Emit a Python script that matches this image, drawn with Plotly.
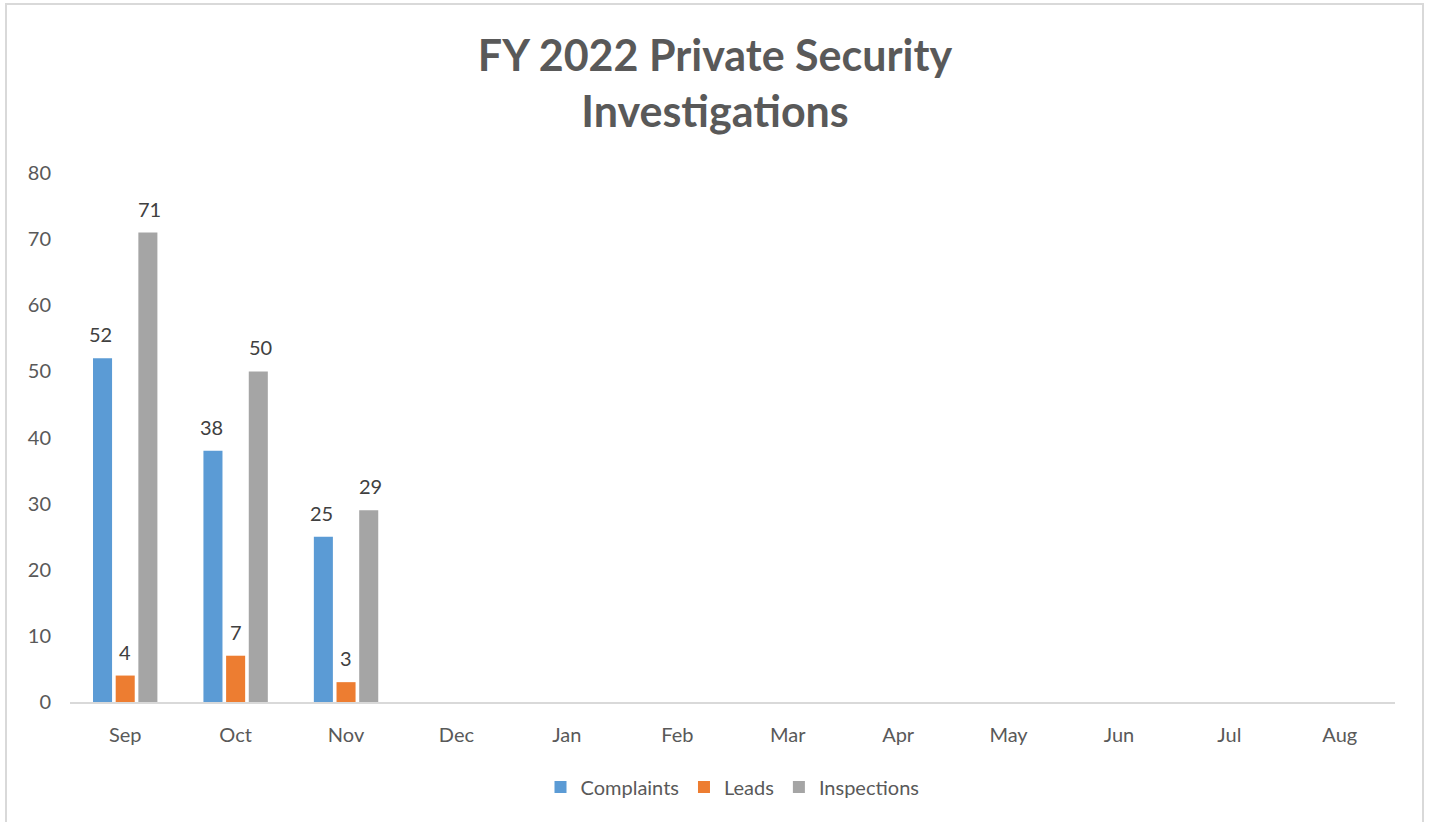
import plotly.graph_objects as go

months = ["Sep", "Oct", "Nov", "Dec", "Jan", "Feb", "Mar", "Apr", "May", "Jun", "Jul", "Aug"]
complaints = [52, 38, 25, None, None, None, None, None, None, None, None, None]
leads = [4, 7, 3, None, None, None, None, None, None, None, None, None]
inspections = [71, 50, 29, None, None, None, None, None, None, None, None, None]
y_ticks = [0, 10, 20, 30, 40, 50, 60, 70, 80]

series = [
    ("Complaints", complaints, "#5b9bd5"),
    ("Leads", leads, "#ed7d31"),
    ("Inspections", inspections, "#a5a5a5"),
]

FONT = "Lato, 'Liberation Sans', sans-serif"
TICK_COLOR = "#595959"
LABEL_COLOR = "#404040"
FS = 20

fig = go.Figure()
for name, vals, color in series:
    fig.add_trace(go.Bar(
        x=months, y=vals, name=name,
        marker=dict(color=color, line=dict(width=0)),
        hoverinfo="x+y+name",
    ))

# data labels above bars
offsets = [-24.5, 0, 24.5]
annotations = []
for (name, vals, color), dx in zip(series, offsets):
    for m, v in zip(months, vals):
        if v is None:
            continue
        annotations.append(dict(
            x=m, y=v, xref="x", yref="y", text=str(v), showarrow=False,
            xshift=dx, yshift=10, yanchor="bottom", xanchor="center",
            font=dict(family=FONT, size=FS, color=LABEL_COLOR),
        ))

W, H = 1429, 822
L, R, T, B = 70, 34, 173, 120
pw, ph = W - L - R, H - T - B

def px_x(px):
    return (px - L) / pw

def px_y(py):
    return (H - B - py) / ph

fig.update_layout(
    width=W, height=H,
    margin=dict(l=L, r=R, t=T, b=B),
    paper_bgcolor="white", plot_bgcolor="white",
    font=dict(family=FONT, size=FS, color=TICK_COLOR),
    title=dict(
        text="FY 2022 Private Security<br>Investigations",
        x=715 / W, xref="container", xanchor="center",
        y=1 - 71 / H, yref="container", yanchor="top",
        font=dict(family=FONT, size=43, color=TICK_COLOR, weight="bold"),
    ),
    barmode="group", bargap=0.384, bargroupgap=0.16,
    showlegend=True,
    legend=dict(
        orientation="h", x=0.5, xanchor="center", y=px_y(787), yanchor="middle",
        font=dict(family=FONT, size=FS, color=TICK_COLOR),
        itemwidth=30,
    ),
    xaxis=dict(
        showline=True, linecolor="#d9d9d9", linewidth=2, ticks="",
        showgrid=False, zeroline=False, ticklabelstandoff=14,
        tickfont=dict(family=FONT, size=FS, color=TICK_COLOR),
    ),
    yaxis=dict(
        range=[0, 80], tickvals=y_ticks, showgrid=False, zeroline=False,
        showline=False, ticks="", ticklabelstandoff=18,
        tickfont=dict(family=FONT, size=FS, color=TICK_COLOR),
    ),
    annotations=annotations,
    shapes=[dict(
        type="rect", xref="paper", yref="paper",
        x0=px_x(6), x1=px_x(1423), y0=px_y(830), y1=px_y(4),
        line=dict(color="#d9d9d9", width=2), fillcolor="rgba(0,0,0,0)", layer="below",
    )],
)

fig.write_html("out.html")
